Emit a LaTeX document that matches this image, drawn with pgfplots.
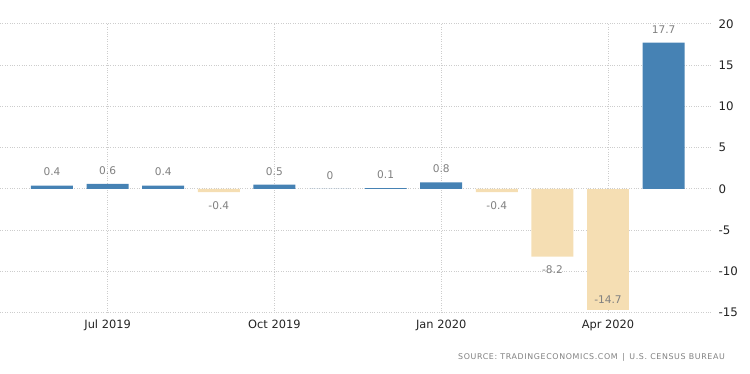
\documentclass[border=0pt]{standalone}
\usepackage{pgfplots}
\pgfplotsset{compat=1.18}
\usepackage{fontspec}
\setmainfont{DejaVu Sans}
\newfontfamily\srcfont[LetterSpace=8]{DejaVu Sans}
\definecolor{barblue}{RGB}{70,130,180}
\definecolor{bartan}{RGB}{245,222,179}
\definecolor{lblgray}{RGB}{128,128,128}
\definecolor{gridgray}{RGB}{205,205,205}
\definecolor{tickdark}{RGB}{35,35,35}
\begin{document}
\begin{tikzpicture}[x=1pt,y=1pt]
\path[use as bounding box] (0,0) rectangle (750,373);
\begin{axis}[
  at={(0,73)}, anchor=south west,
  scale only axis, width=712pt, height=289pt,
  xmin=-0.935, xmax=11.87,
  ymin=-15, ymax=20,
  ytick={-15,-10,-5,0,5,10,15,20},
  yticklabel pos=right,
  y tick label style={font=\fontsize{11.8}{13}\selectfont, text=tickdark, anchor=west, xshift=3pt},
  xtick={1,4,7,10},
  xticklabels={Jul 2019,Oct 2019,Jan 2020,Apr 2020},
  x tick label style={font=\fontsize{11.4}{13}\selectfont, text=tickdark, yshift=-4pt},
  /pgf/number format/assume math mode=true,
  axis line style={draw=none},
  major tick length=0pt,
  xmajorgrids, ymajorgrids,
  major grid style={gridgray, dotted, line width=0.8pt},
  ybar, bar width=42pt,
  nodes near coords,
  every node near coord/.append style={font=\fontsize{10.6}{12}\selectfont, text=lblgray},
  clip=false,
]
\addplot[fill=barblue, draw=none, bar shift=0pt,
  nodes near coords style={anchor=south, yshift=6pt}]
  coordinates {(0,0.4) (1,0.6) (2,0.4) (4,0.5) (5,0) (6,0.1) (7,0.8) (11,17.7)};
\addplot[fill=bartan, draw=none, bar shift=0pt,
  nodes near coords style={anchor=north, yshift=-6pt}]
  coordinates {(3,-0.4) (8,-0.4) (9,-8.2)};
\addplot[fill=bartan, draw=none, bar shift=0pt,
  nodes near coords style={anchor=south, yshift=3pt}]
  coordinates {(10,-14.7)};
\end{axis}
\node[anchor=base east, text=lblgray, inner sep=0pt] at (725,14)
  {\srcfont\fontsize{7.9}{9}\selectfont SOURCE: TRADINGECONOMICS.COM \,|\, U.S. CENSUS BUREAU};
\end{tikzpicture}
\end{document}
